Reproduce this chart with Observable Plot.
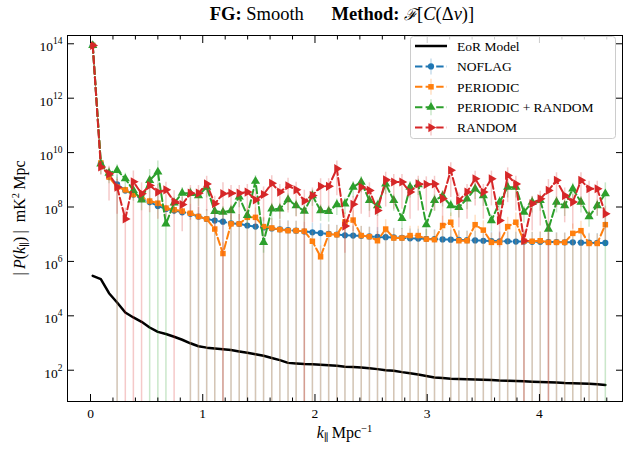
<!DOCTYPE html>
<html><head><meta charset="utf-8">
<script src="https://cdn.jsdelivr.net/npm/d3@7"></script>
<script src="https://cdn.jsdelivr.net/npm/@observablehq/plot@0.6"></script>
<style>
html,body{margin:0;padding:0;background:#fff;}
svg text{font-family:"Liberation Serif","DejaVu Serif",serif;}
</style></head><body><div id="chart"></div>
<script>
// k_parallel values (Mpc^-1)
const kPar = [0.02,0.092,0.165,0.237,0.31,0.382,0.455,0.527,0.6,0.672,0.745,0.817,0.89,0.962,1.035,1.107,1.18,1.252,1.325,1.397,1.47,1.542,1.615,1.687,1.76,1.832,1.905,1.977,2.05,2.122,2.195,2.267,2.34,2.412,2.485,2.557,2.63,2.702,2.775,2.847,2.92,2.992,3.065,3.137,3.21,3.282,3.355,3.427,3.5,3.572,3.645,3.717,3.79,3.862,3.935,4.007,4.08,4.152,4.225,4.297,4.37,4.442,4.515,4.587];

// log10 |P(k)|
const eorLog = [5.47,5.35,4.83,4.49,4.12,3.94,3.78,3.57,3.41,3.33,3.23,3.12,2.99,2.88,2.83,2.80,2.77,2.74,2.69,2.64,2.59,2.53,2.45,2.37,2.27,2.25,2.23,2.22,2.20,2.18,2.16,2.13,2.12,2.10,2.07,2.04,2.00,1.98,1.93,1.89,1.84,1.79,1.73,1.71,1.69,1.68,1.67,1.66,1.65,1.64,1.62,1.61,1.60,1.59,1.58,1.57,1.56,1.55,1.53,1.52,1.51,1.50,1.48,1.46];
const noflagLog = [13.94,9.60,9.12,8.83,8.61,8.46,8.30,8.18,8.04,7.93,7.87,7.81,7.75,7.65,7.56,7.50,7.46,7.40,7.38,7.32,7.28,7.25,7.21,7.18,7.15,7.13,7.10,7.07,7.04,7.01,6.99,6.96,6.95,6.94,6.92,6.90,6.89,6.88,6.87,6.85,6.84,6.83,6.82,6.81,6.80,6.79,6.78,6.77,6.76,6.75,6.74,6.74,6.73,6.73,6.72,6.72,6.71,6.71,6.70,6.70,6.69,6.69,6.68,6.68];
const periodicLog = [13.94,9.62,9.10,8.73,8.63,8.46,8.36,8.22,8.14,7.96,7.90,7.85,7.77,7.65,7.56,7.19,6.29,7.38,7.38,7.62,7.62,7.28,7.23,7.17,7.13,7.13,7.11,6.74,6.17,7.00,6.98,7.45,7.52,6.95,6.91,6.76,7.19,6.86,6.86,6.95,6.95,6.82,6.80,7.32,7.44,6.76,6.76,7.35,7.15,6.70,6.70,7.28,7.44,6.75,6.74,6.76,6.70,6.70,6.70,7.03,7.13,6.66,6.66,7.35];
const perRandLog = [13.94,9.59,9.25,9.35,9.04,8.61,8.26,8.98,9.29,7.38,8.15,8.51,8.50,8.42,8.73,7.84,7.81,7.87,8.37,7.69,8.95,6.70,7.93,7.93,8.27,8.05,7.85,8.42,7.87,7.84,8.09,8.12,8.73,8.92,8.24,8.05,8.85,8.24,7.58,8.73,8.82,7.35,8.24,8.40,8.05,7.99,8.30,8.67,8.42,7.50,8.18,8.73,8.73,7.81,8.18,8.24,7.19,8.18,8.05,8.67,8.18,7.65,8.05,8.49];
const randomLog = [13.94,9.47,9.22,8.73,7.56,8.93,8.49,8.79,8.55,8.63,8.20,8.09,8.51,8.51,8.85,8.12,8.49,8.51,8.51,8.55,8.26,8.46,8.87,8.55,8.78,8.63,8.22,8.42,8.76,8.76,9.41,7.30,8.10,8.73,8.61,7.87,9.00,8.92,8.92,8.55,8.85,8.83,8.85,8.30,9.35,8.24,8.55,9.04,8.55,9.04,7.50,9.16,8.85,6.76,8.12,8.30,8.61,8.98,8.42,8.18,8.98,8.67,8.67,7.75];

// relative 1-sigma errors (sigma / value)
const noflagErr = [0.3,0.3,0.3,1.2,0.3,0.3,0.3,0.3,0.3,0.3,0.3,0.3,1.2,1.2,1.2,1.2,1.2,1.2,1.2,1.2,1.2,1.2,1.2,1.2,1.2,1.2,1.2,1.2,1.2,1.2,1.2,1.2,1.2,1.2,1.2,1.2,1.2,1.2,1.2,1.2,1.2,1.2,1.2,1.2,1.2,1.2,1.2,1.2,1.2,1.2,1.2,1.2,1.2,1.2,1.2,1.2,1.2,1.2,1.2,1.2,1.2,1.2,1.2,0.3];
const periodicErr = [0.3,0.3,0.3,1.2,0.3,0.3,0.3,0.3,0.3,0.3,0.3,0.3,1.2,1.2,1.2,1.2,1.5,1.2,1.2,1.2,1.2,1.2,1.2,1.2,1.2,1.2,1.2,1.2,1.5,1.2,1.2,1.2,1.2,1.2,1.2,1.2,1.2,1.2,1.2,1.2,1.2,1.2,1.2,1.2,1.2,1.2,1.2,1.2,1.2,1.2,1.2,1.2,1.2,1.2,1.2,1.2,1.2,1.2,1.2,1.2,1.2,1.2,1.2,0.3];
const perRandErr = [0.3,0.6,0.6,0.6,0.6,0.6,0.6,1.5,1.5,1.5,0.6,0.6,0.6,0.6,0.6,0.6,0.6,0.6,0.6,0.6,0.6,0.6,0.6,0.6,0.6,0.6,0.6,0.6,0.6,0.6,0.6,0.6,0.6,0.6,0.6,0.6,0.6,0.6,0.6,0.6,0.6,0.6,0.6,0.6,0.6,0.6,0.6,0.6,0.6,0.6,0.6,0.6,0.6,0.6,0.6,0.6,0.6,0.6,0.6,0.6,0.6,0.6,0.6,1.5];
const randomErr = [0.3,0.5,0.9,0.9,1.5,1.5,1.5,0.9,0.9,0.9,1.5,0.9,0.9,0.9,0.9,0.9,1.5,0.9,0.9,0.9,0.9,0.9,0.9,0.9,0.9,0.9,1.5,0.9,0.9,0.9,0.9,0.9,0.9,0.9,0.9,0.9,0.9,0.9,0.9,0.9,0.9,0.9,0.9,0.9,0.9,0.9,0.9,0.9,0.9,0.9,0.9,0.9,0.9,1.5,0.9,0.9,1.5,0.9,0.9,0.9,0.9,0.9,0.9,0.9];

const seriesNames = ["NOFLAG","PERIODIC","PERIODIC + RANDOM","RANDOM"];
const seriesColors = ["#1f77b4","#ff7f0e","#2ca02c","#d62728"];
const seriesSymbols = ["circle","square","triangle","triangle"];
const seriesRotate = [0,0,0,90];
const seriesRadius = [3.1,3.1,3.4,3.4];
const seriesLogs = [noflagLog, periodicLog, perRandLog, randomLog];
const seriesErrs = [noflagErr, periodicErr, perRandErr, randomErr];

const xMajor = [0,1,2,3,4];
const xMinor = [0.2,0.4,0.6,0.8,1.2,1.4,1.6,1.8,2.2,2.4,2.6,2.8,3.2,3.4,3.6,3.8,4.2,4.4,4.6];
const yMajor = [1e2,1e4,1e6,1e8,1e10,1e12,1e14];

const yMin = 10 ** 0.85, yMax = 10 ** 14.305;

const eorRows = kPar.map((k, i) => ({k, v: 10 ** eorLog[i]}));
const seriesRows = seriesLogs.map((logs, s) => kPar.map((k, i) => {
  const v = 10 ** logs[i], e = v * seriesErrs[s][i];
  const lo = v - e;
  return {k, v, lo: lo > yMin ? lo : yMin / 10, hi: v + e};
}));

const marks = [
  Plot.lineY(eorRows, {x: "k", y: "v", stroke: "black", strokeWidth: 2.5})
];
seriesRows.forEach((rows, s) => {
  marks.push(Plot.ruleX(rows, {x: "k", y1: "lo", y2: "hi", stroke: seriesColors[s], strokeOpacity: 0.25, strokeWidth: 1.5, clip: true}));
  marks.push(Plot.lineY(rows, {x: "k", y: "v", stroke: seriesColors[s], strokeWidth: 2, strokeDasharray: "7.4,3.2"}));
  marks.push(Plot.dot(rows, {x: "k", y: "v", symbol: seriesSymbols[s], rotate: seriesRotate[s], r: seriesRadius[s], fill: seriesColors[s], stroke: "none"}));
});
marks.push(
  Plot.frame({stroke: "black", strokeWidth: 1}),
  Plot.axisX({anchor: "bottom", ticks: xMajor, tickSize: -7, tickPadding: 14, label: null, fontSize: 13.5, tickFormat: d => String(d)}),
  Plot.axisX({anchor: "bottom", ticks: xMinor, tickSize: -3.5, tickFormat: () => "", label: null}),
  Plot.axisX({anchor: "top", ticks: xMajor, tickSize: -7, tickFormat: () => "", label: null}),
  Plot.axisX({anchor: "top", ticks: xMinor, tickSize: -3.5, tickFormat: () => "", label: null}),
  Plot.axisY({anchor: "left", ticks: yMajor, tickSize: -7, tickPadding: 12, label: null, fontSize: 13.5, className: "ylab", tickFormat: d => String(Math.round(Math.log10(d)))}),
  Plot.axisY({anchor: "right", ticks: yMajor, tickSize: -7, tickFormat: () => "", label: null})
);

const chart = Plot.plot({
  width: 630, height: 451,
  marginLeft: 67, marginRight: 8, marginTop: 35, marginBottom: 50,
  style: {background: "white", color: "black", fontFamily: "Liberation Serif, DejaVu Serif, serif"},
  x: {domain: [-0.205, 4.74]},
  y: {type: "log", domain: [yMin, yMax]},
  marks
});
document.getElementById("chart").appendChild(chart);

const svg = d3.select(chart);
// superscript y tick labels
svg.selectAll("g.ylab text").each(function () {
  const t = d3.select(this);
  const e = t.text();
  t.text("");
  t.append("tspan").attr("dy", "3").text("10");
  t.append("tspan").attr("dy", "-7").attr("font-size", "9.5px").text(e);
});

const serif = "Liberation Serif, DejaVu Serif, serif";
// title
const title = svg.append("text").attr("x", 342).attr("y", 20).attr("text-anchor", "middle")
  .attr("font-size", "18.5px").attr("font-family", serif).attr("fill", "black");
title.append("tspan").attr("font-weight", "bold").text("FG:");
title.append("tspan").text(" Smooth\u2003\u2002");
title.append("tspan").attr("font-weight", "bold").text("Method:");
title.append("tspan").text(" ");
title.append("tspan").attr("font-family", "DejaVu Serif, serif").attr("font-style", "italic").attr("font-size", "16px").text("\u2131");
title.append("tspan").text("[");
title.append("tspan").attr("font-style", "italic").text("C");
title.append("tspan").text("(\u0394");
title.append("tspan").attr("font-style", "italic").text("\u03bd");
title.append("tspan").text(")]");

// x label
const xl = svg.append("text").attr("x", 344.5).attr("y", 438).attr("text-anchor", "middle")
  .attr("font-size", "16px").attr("font-family", serif);
xl.append("tspan").attr("font-style", "italic").text("k");
xl.append("tspan").attr("dy", 3).attr("font-size", "10.5px").text("\u2225");
xl.append("tspan").attr("dy", -3).text("\u2009Mpc");
xl.append("tspan").attr("dy", -6).attr("font-size", "10.5px").text("\u22121");

// y label
const yl = svg.append("text").attr("transform", "translate(25,218) rotate(-90)").attr("text-anchor", "middle")
  .attr("font-size", "16px").attr("font-family", serif);
yl.append("tspan").text("|\u2009");
yl.append("tspan").attr("font-style", "italic").text("P");
yl.append("tspan").text("(");
yl.append("tspan").attr("font-style", "italic").text("k");
yl.append("tspan").attr("dy", 3).attr("font-size", "10.5px").text("\u2225");
yl.append("tspan").attr("dy", -3).text(")\u2009|\u2002mK");
yl.append("tspan").attr("dy", -6).attr("font-size", "10.5px").text("2");
yl.append("tspan").attr("dy", 6).text("\u2009Mpc");

// legend
const lg = svg.append("g");
lg.append("rect").attr("x", 410.5).attr("y", 36.5).attr("width", 205).attr("height", 102).attr("rx", 3)
  .attr("fill", "white").attr("fill-opacity", 0.8).attr("stroke", "#cccccc");
const legendItems = [{name: "EoR Model", color: "black"}].concat(seriesNames.map((n, s) => ({name: n, color: seriesColors[s], s})));
legendItems.forEach((it, j) => {
  const y = 46 + j * 20.4;
  if (it.s === undefined) {
    lg.append("line").attr("x1", 415).attr("x2", 447).attr("y1", y).attr("y2", y).attr("stroke", "black").attr("stroke-width", 2.5);
  } else {
    lg.append("line").attr("x1", 431).attr("x2", 431).attr("y1", y - 8).attr("y2", y + 8).attr("stroke", it.color).attr("stroke-opacity", 0.25).attr("stroke-width", 1.5);
    lg.append("line").attr("x1", 415).attr("x2", 447).attr("y1", y).attr("y2", y).attr("stroke", it.color).attr("stroke-width", 2).attr("stroke-dasharray", "7.4,3.2");
    const sym = {circle: d3.symbolCircle, square: d3.symbolSquare, triangle: d3.symbolTriangle}[seriesSymbols[it.s]];
    const r = seriesRadius[it.s];
    lg.append("path").attr("d", d3.symbol(sym, Math.PI * r * r)())
      .attr("transform", `translate(431,${y}) rotate(${seriesRotate[it.s]})`).attr("fill", it.color);
  }
  lg.append("text").attr("x", 457).attr("y", y).attr("dy", "0.35em").attr("text-anchor", "start")
    .attr("font-size", "13.5px").attr("font-family", serif).text(it.name);
});
</script></body></html>
